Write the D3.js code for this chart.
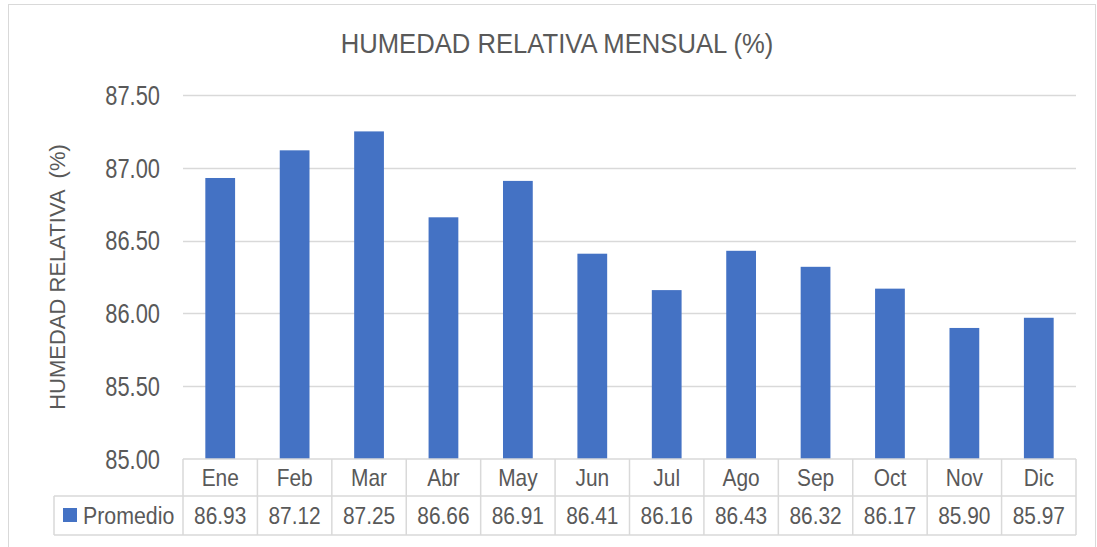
<!DOCTYPE html>
<html>
<head>
<meta charset="utf-8">
<script src="https://cdn.jsdelivr.net/npm/d3@7"></script>
<style>
  body { margin: 0; background: #fff; }
  text { font-family: "Liberation Sans", Arial, sans-serif; fill: #595959; }
</style>
</head>
<body>
<svg id="chart" width="1097" height="547"></svg>
<script>
// data
var months = ["Ene", "Feb", "Mar", "Abr", "May", "Jun", "Jul", "Ago", "Sep", "Oct", "Nov", "Dic"];
var promedio = [86.93, 87.12, 87.25, 86.66, 86.91, 86.41, 86.16, 86.43, 86.32, 86.17, 85.90, 85.97];
var yTicks = [85.00, 85.50, 86.00, 86.50, 87.00, 87.50];
var seriesName = "Promedio";

var svg = d3.select("#chart");
var grid = "#d9d9d9";
var barColor = "#4472c4";

// no narrow font here, so squeeze the regular one
function place(x, y, s) {
  return "translate(" + x + "," + y + ") scale(" + s + ",1)";
}

// chart frame
svg.append("rect")
  .attr("x", 8.5).attr("y", 4.5)
  .attr("width", 1087).attr("height", 560)
  .attr("fill", "white").attr("stroke", grid);

var plot = { left: 183, right: 1076, top: 95, bottom: 459 };

var x = d3.scaleBand()
  .domain(months)
  .range([plot.left, plot.right])
  .paddingInner(0.6).paddingOuter(0.3);

var xCell = d3.scaleBand()
  .domain(months)
  .range([plot.left, plot.right]);

var y = d3.scaleLinear()
  .domain([85, 87.5])
  .range([plot.bottom, plot.top]);

// title
svg.append("text")
  .attr("transform", place(557, 53, 0.95))
  .attr("text-anchor", "middle")
  .style("font-size", "27px")
  .text("HUMEDAD RELATIVA MENSUAL (%)");

// gridlines
svg.append("g").selectAll("line")
  .data(yTicks.slice(1))
  .enter().append("line")
  .attr("x1", plot.left).attr("x2", plot.right)
  .attr("y1", function(d) { return Math.round(y(d)) + 0.5; })
  .attr("y2", function(d) { return Math.round(y(d)) + 0.5; })
  .attr("stroke", grid).attr("stroke-width", 1.5);

// y tick labels
svg.append("g").selectAll("text")
  .data(yTicks)
  .enter().append("text")
  .attr("transform", function(d) { return place(160, y(d), 0.81); })
  .attr("dy", "0.36em")
  .attr("text-anchor", "end")
  .style("font-size", "27px")
  .text(function(d) { return d3.format(".2f")(d); });

// y axis title
svg.append("text")
  .attr("transform", "translate(65,277) rotate(-90)")
  .attr("text-anchor", "middle")
  .style("font-size", "22px")
  .style("white-space", "pre")
  .text("HUMEDAD RELATIVA  (%)");

// bars
svg.append("g").selectAll("rect")
  .data(promedio)
  .enter().append("rect")
  .attr("x", function(d, i) { return x(months[i]); })
  .attr("width", x.bandwidth())
  .attr("y", function(d) { return y(d); })
  .attr("height", function(d) { return y(85) - y(d); })
  .attr("fill", barColor);

// data table
var row1 = { top: 459, bottom: 496 };
var row2 = { top: 496, bottom: 535 };
var legLeft = 54;
var table = svg.append("g").attr("stroke", grid).attr("stroke-width", 1.5).attr("fill", "none");

table.append("line").attr("x1", plot.left).attr("x2", plot.right).attr("y1", row1.top).attr("y2", row1.top);
table.append("line").attr("x1", legLeft).attr("x2", plot.right).attr("y1", row2.top).attr("y2", row2.top);
table.append("line").attr("x1", legLeft).attr("x2", plot.right).attr("y1", row2.bottom).attr("y2", row2.bottom);
table.append("line").attr("x1", legLeft).attr("x2", legLeft).attr("y1", row2.top).attr("y2", row2.bottom);

table.selectAll(".vline")
  .data(months.concat(["end"]))
  .enter().append("line")
  .attr("class", "vline")
  .attr("x1", function(d, i) { return i < months.length ? xCell(d) : plot.right; })
  .attr("x2", function(d, i) { return i < months.length ? xCell(d) : plot.right; })
  .attr("y1", row1.top).attr("y2", row2.bottom);

svg.append("g").selectAll("text")
  .data(months)
  .enter().append("text")
  .attr("transform", function(d) { return place(xCell(d) + xCell.bandwidth() / 2, 486, 0.87); })
  .attr("text-anchor", "middle")
  .style("font-size", "24px")
  .text(function(d) { return d; });

svg.append("g").selectAll("text")
  .data(promedio)
  .enter().append("text")
  .attr("transform", function(d, i) { return place(xCell(months[i]) + xCell.bandwidth() / 2, 524, 0.87); })
  .attr("text-anchor", "middle")
  .style("font-size", "24px")
  .text(function(d) { return d3.format(".2f")(d); });

// legend key inside table
svg.append("rect")
  .attr("x", 63).attr("y", 508)
  .attr("width", 14).attr("height", 14)
  .attr("fill", barColor);

svg.append("text")
  .attr("transform", place(83, 524, 0.89))
  .style("font-size", "24px")
  .text(seriesName);
</script>
</body>
</html>
